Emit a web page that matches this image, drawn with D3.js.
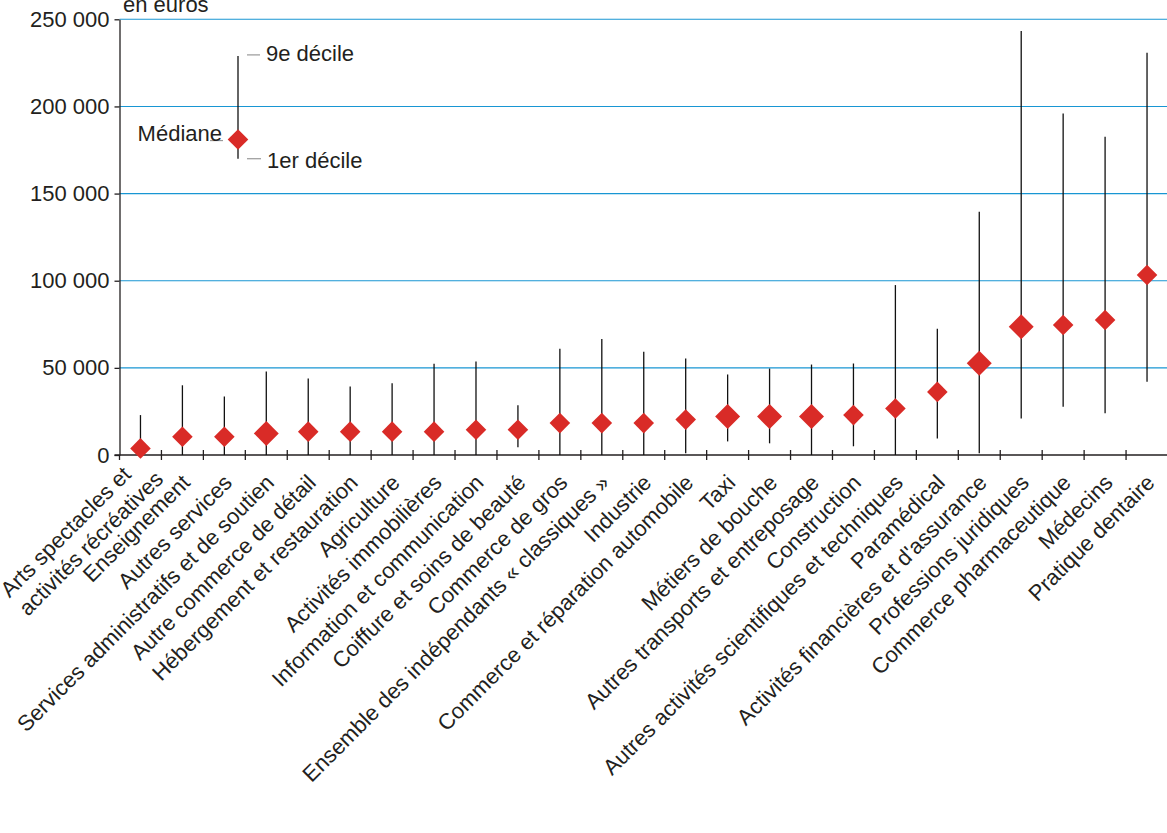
<!DOCTYPE html>
<html lang="fr">
<head>
<meta charset="utf-8">
<script src="https://cdn.jsdelivr.net/npm/d3@7"></script>
<style>
  html, body { margin: 0; padding: 0; background: #fff; }
  svg { display: block; font-family: "Liberation Sans", Arial, sans-serif; }
</style>
</head>
<body>
<svg id="chart" width="1167" height="833"></svg>
<script>
// ---- Data ----
const categories = [
  "Arts spectacles et\nactivités récréatives",
  "Enseignement",
  "Autres services",
  "Services administratifs et de soutien",
  "Autre commerce de détail",
  "Hébergement et restauration",
  "Agriculture",
  "Activités immobilières",
  "Information et communication",
  "Coiffure et soins de beauté",
  "Commerce de gros",
  "Ensemble des indépendants « classiques »",
  "Industrie",
  "Commerce et réparation automobile",
  "Taxi",
  "Métiers de bouche",
  "Autres transports et entreposage",
  "Construction",
  "Autres activités scientifiques et techniques",
  "Paramédical",
  "Activités financières et d'assurance",
  "Professions juridiques",
  "Commerce pharmaceutique",
  "Médecins",
  "Pratique dentaire"
];
const decile1 = [0, 0, 0, 0, 0, 0, 0, 0, 0, 4500, 0, 0, 0, 1000, 7800, 6700, 0, 5000, 0, 9500, 1000, 21000, 27700, 23900, 42100];
const medians = [3800, 10500, 10500, 12400, 13400, 13400, 13400, 13400, 14500, 14500, 18300, 18300, 18300, 20300, 22100, 22100, 22100, 22900, 26700, 36200, 52600, 73600, 74600, 77500, 103300];
const decile9 = [22900, 40000, 33600, 47900, 43900, 39300, 41200, 52400, 53600, 28600, 61000, 66600, 59200, 55300, 46200, 49600, 51900, 52500, 97500, 72500, 139600, 243300, 196000, 182600, 230800];
const yTicks = [0, 50000, 100000, 150000, 200000, 250000];
const unitLabel = "en euros";
const legendLabels = ["1er décile", "Médiane", "9e décile"];
const legendValues = [170000, 181000, 229000];

// Style-only: categories drawn with the larger diamond marker
const largeMarkers = [
  "Services administratifs et de soutien", "Taxi", "Métiers de bouche",
  "Autres transports et entreposage", "Activités financières et d'assurance",
  "Professions juridiques"
];

// ---- Layout ----
const W = 1167, H = 833;
const axisX = 119.5, axisY = 455;
const FONT = 22;
const TEXT = "#231f20";
const BLUE = "#1896d3";
const RED = "#d92b27";

const svg = d3.select("#chart");

const x = d3.scaleBand().domain(categories).range([axisX, 1168]).padding(0);
const y = d3.scaleLinear().domain([0, 250000]).range([axisY, 19.3]);

const frLocale = d3.formatLocale({decimal: ",", thousands: "\u00a0", grouping: [3], currency: ["", " €"]});
const fmt = frLocale.format(",d");

// Gridlines
svg.append("g").selectAll("line")
  .data(yTicks.filter(d => d > 0))
  .join("line")
  .attr("x1", axisX).attr("x2", W)
  .attr("y1", d => y(d)).attr("y2", d => y(d))
  .attr("stroke", BLUE).attr("stroke-width", 1.1);

// Y axis
const yAxis = d3.axisLeft(y).tickValues(yTicks).tickFormat(fmt).tickSize(5).tickSizeOuter(0).tickPadding(5);
const gy = svg.append("g").attr("transform", `translate(${axisX},0)`).call(yAxis);
gy.select(".domain").attr("stroke", TEXT).attr("stroke-width", 1.3);
gy.selectAll(".tick line").attr("stroke", TEXT).attr("stroke-width", 1.3);
gy.selectAll(".tick text").attr("fill", TEXT).attr("font-size", FONT)
  .attr("font-family", "Liberation Sans, Arial, sans-serif");

// X axis line + boundary ticks
svg.append("line")
  .attr("x1", axisX - 5).attr("x2", W)
  .attr("y1", axisY).attr("y2", axisY)
  .attr("stroke", TEXT).attr("stroke-width", 1.3);
svg.append("g").selectAll("line")
  .data(categories)
  .join("line")
  .attr("x1", d => x(d)).attr("x2", d => x(d))
  .attr("y1", (d, i) => i === 0 ? axisY : axisY - 5).attr("y2", axisY + 5)
  .attr("stroke", TEXT).attr("stroke-width", 1.3);

// Category labels (rotated)
const labels = svg.append("g").selectAll("text")
  .data(categories)
  .join("text")
  .attr("transform", d => {
    const multi = d.includes("\n");
    return `translate(${x(d) + x.bandwidth() / 2 + 9 + (multi ? 3 : 0)},${axisY + 29 - (multi ? 10 : 0)}) rotate(-45)`;
  })
  .attr("fill", TEXT).attr("font-size", FONT);
labels.each(function(d) {
  const t = d3.select(this);
  const lines = d.split("\n");
  if (lines.length === 1) {
    t.attr("text-anchor", "end").text(d);
  } else {
    const spans = lines.map((ln, k) => t.append("tspan")
      .attr("y", (k - (lines.length - 1) / 2) * FONT * 1.18)
      .text(ln));
    const maxLen = d3.max(spans, s => s.node().getComputedTextLength());
    spans.forEach(s => s.attr("x", -maxLen + 4));
    t.attr("text-anchor", "start");
  }
});

// Whiskers
const data = categories.map((c, i) => ({c, d1: decile1[i], med: medians[i], d9: decile9[i]}));
svg.append("g").selectAll("line")
  .data(data)
  .join("line")
  .attr("x1", d => x(d.c) + x.bandwidth() / 2).attr("x2", d => x(d.c) + x.bandwidth() / 2)
  .attr("y1", d => y(d.d1)).attr("y2", d => y(d.d9))
  .attr("stroke", "#111").attr("stroke-width", 1.3);

// Diamonds
const smallSym = d3.symbol().type(d3.symbolSquare).size(212)();
const largeSym = d3.symbol().type(d3.symbolSquare).size(312)();
svg.append("g").selectAll("path")
  .data(data)
  .join("path")
  .attr("d", d => largeMarkers.includes(d.c) ? largeSym : smallSym)
  .attr("transform", d => `translate(${x(d.c) + x.bandwidth() / 2},${y(d.med)}) rotate(45)`)
  .attr("fill", RED);

// Unit label
svg.append("text").attr("x", 123).attr("y", 12)
  .attr("fill", TEXT).attr("font-size", FONT).text(unitLabel);

// Legend example
const lgX = 238;
svg.append("line").attr("x1", lgX).attr("x2", lgX)
  .attr("y1", y(legendValues[0])).attr("y2", y(legendValues[2]))
  .attr("stroke", "#111").attr("stroke-width", 1.3);
svg.append("path").attr("d", smallSym)
  .attr("transform", `translate(${lgX},${y(legendValues[1])}) rotate(45)`)
  .attr("fill", RED);
// gray leader dashes
svg.append("line").attr("x1", lgX + 9).attr("x2", lgX + 22)
  .attr("y1", y(legendValues[2]) - 1).attr("y2", y(legendValues[2]) - 1)
  .attr("stroke", "#999").attr("stroke-width", 1.2);
svg.append("line").attr("x1", lgX + 9).attr("x2", lgX + 23)
  .attr("y1", y(legendValues[0])).attr("y2", y(legendValues[0]))
  .attr("stroke", "#999").attr("stroke-width", 1.2);
svg.append("line").attr("x1", lgX - 28).attr("x2", lgX - 15)
  .attr("y1", y(legendValues[1]) + 1).attr("y2", y(legendValues[1]) + 1)
  .attr("stroke", "#999").attr("stroke-width", 1.2);
svg.append("text").attr("x", lgX + 28).attr("y", y(legendValues[2]) + 5)
  .attr("fill", TEXT).attr("font-size", FONT).text(legendLabels[2]);
svg.append("text").attr("x", lgX + 29).attr("y", y(legendValues[0]) + 9)
  .attr("fill", TEXT).attr("font-size", FONT).text(legendLabels[0]);
svg.append("text").attr("x", lgX - 16).attr("y", y(legendValues[1]) + 1)
  .attr("text-anchor", "end")
  .attr("fill", TEXT).attr("font-size", FONT).text(legendLabels[1]);
</script>
</body>
</html>
